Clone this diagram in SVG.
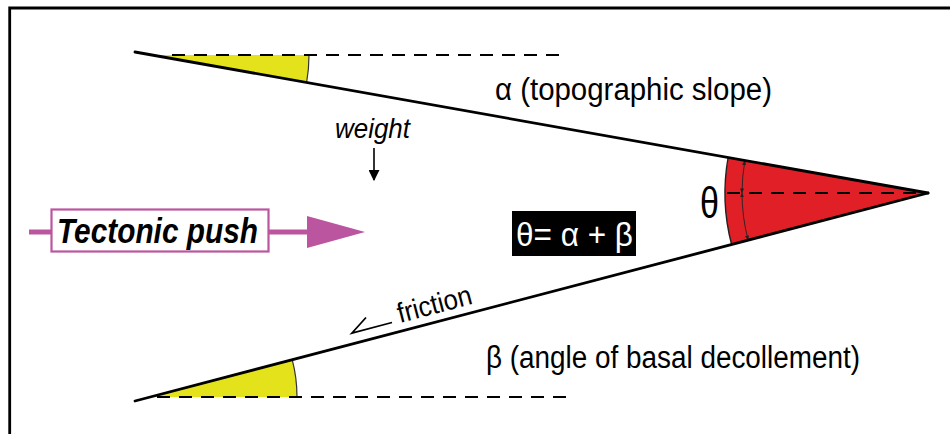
<svg xmlns="http://www.w3.org/2000/svg" width="950" height="434" viewBox="0 0 950 434">
<style>
.ln{stroke:#000;stroke-width:2.8;fill:none;stroke-linecap:round}
.dash{stroke:#000;stroke-width:2.2;fill:none;stroke-dasharray:13 9}
.lbl{font-family:"Liberation Sans",Arial,sans-serif;fill:#000}
.thin{stroke:#222;stroke-width:0.9;fill:none}
</style>
<defs>
<marker id="ah" viewBox="0 0 10 10" refX="9" refY="5" markerWidth="5" markerHeight="5" orient="auto-start-reverse" markerUnits="userSpaceOnUse">
<path d="M0,1 L10,5 L0,9 Z" fill="#222"/>
</marker>
<marker id="wa" viewBox="0 0 10 10" refX="9" refY="5" markerWidth="11" markerHeight="11" orient="auto" markerUnits="userSpaceOnUse">
<path d="M0,0 L10,5 L0,10 Z" fill="#000"/>
</marker>
</defs>
<rect width="950" height="434" fill="#fff"/>
<path d="M9.7,434 V8 H950" stroke="#000" stroke-width="2.8" fill="none"/>

<g id="angles">
<path d="M152,55 L309,55 A157,157 0 0 1 306.6,82.5 Z" fill="#e4e31b"/>
<path d="M309,55 A157,157 0 0 1 306.6,82.5" stroke="#333" stroke-width="1.2" fill="none"/>
<path d="M150,397 L297,397 A147,147 0 0 0 292.2,359.7 Z" fill="#e4e31b"/>
<path d="M297,397 A147,147 0 0 0 292.2,359.7" stroke="#333" stroke-width="1.2" fill="none"/>
<path d="M928,193 L728.1,157.5 A203,203 0 0 0 731.6,244.5 Z" fill="#e01f26"/>
<path d="M728.1,157.5 A203,203 0 0 0 731.6,244.5" stroke="#222" stroke-width="1.4" fill="none"/>
<path class="thin" d="M744.9,160.6 A186,186 0 0 0 742,193" marker-start="url(#ah)" marker-end="url(#ah)"/>
<path class="thin" d="M742,193 A186,186 0 0 0 748.1,240.0" marker-start="url(#ah)" marker-end="url(#ah)"/>
</g>

<g id="connectors">
<line class="dash" x1="172" y1="55" x2="568" y2="55"/>
<line class="dash" x1="157" y1="397" x2="567" y2="397"/>
<line class="dash" x1="727" y1="193" x2="925" y2="193" stroke-width="2.5"/>
<line class="ln" x1="135" y1="52" x2="928" y2="193"/>
<line class="ln" x1="135" y1="401" x2="928" y2="193"/>
<line x1="374" y1="148" x2="374" y2="180" stroke="#000" stroke-width="1.6" marker-end="url(#wa)"/>
<polyline points="366,317.5 352,333 392,322.5" stroke="#000" stroke-width="1.8" fill="none"/>
<line x1="29" y1="232" x2="51" y2="232" stroke="#bb55a0" stroke-width="5"/>
<line x1="269" y1="232" x2="310" y2="232" stroke="#bb55a0" stroke-width="5"/>
<polygon points="307,216 365,232 307,248" fill="#bb55a0"/>
</g>

<g id="push">
<rect x="51.5" y="209.5" width="217" height="42" fill="#fff" stroke="#bb55a0" stroke-width="2.2"/>
<text class="lbl" x="57" y="243" font-size="35" font-weight="bold" font-style="italic" textLength="201" lengthAdjust="spacingAndGlyphs">Tectonic push</text>
</g>

<g id="formula">
<rect x="512" y="211" width="124" height="45" fill="#000"/>
<text class="lbl" x="516" y="246" font-size="33" style="fill:#fff" textLength="117" lengthAdjust="spacingAndGlyphs">θ= α + β</text>
</g>

<g id="labels">
<text class="lbl" x="495" y="100" font-size="31" textLength="277" lengthAdjust="spacingAndGlyphs">α (topographic slope)</text>
<text class="lbl" x="486" y="368" font-size="31" textLength="374" lengthAdjust="spacingAndGlyphs">β (angle of basal decollement)</text>
<text class="lbl" x="335" y="138" font-size="27" font-style="italic" textLength="75" lengthAdjust="spacingAndGlyphs">weight</text>
<text class="lbl" x="0" y="0" font-size="28" textLength="76" lengthAdjust="spacingAndGlyphs" transform="translate(400,323) rotate(-14.7)">friction</text>
<text class="lbl" x="700" y="218" font-size="44" textLength="19" lengthAdjust="spacingAndGlyphs">θ</text>
</g>
</svg>
